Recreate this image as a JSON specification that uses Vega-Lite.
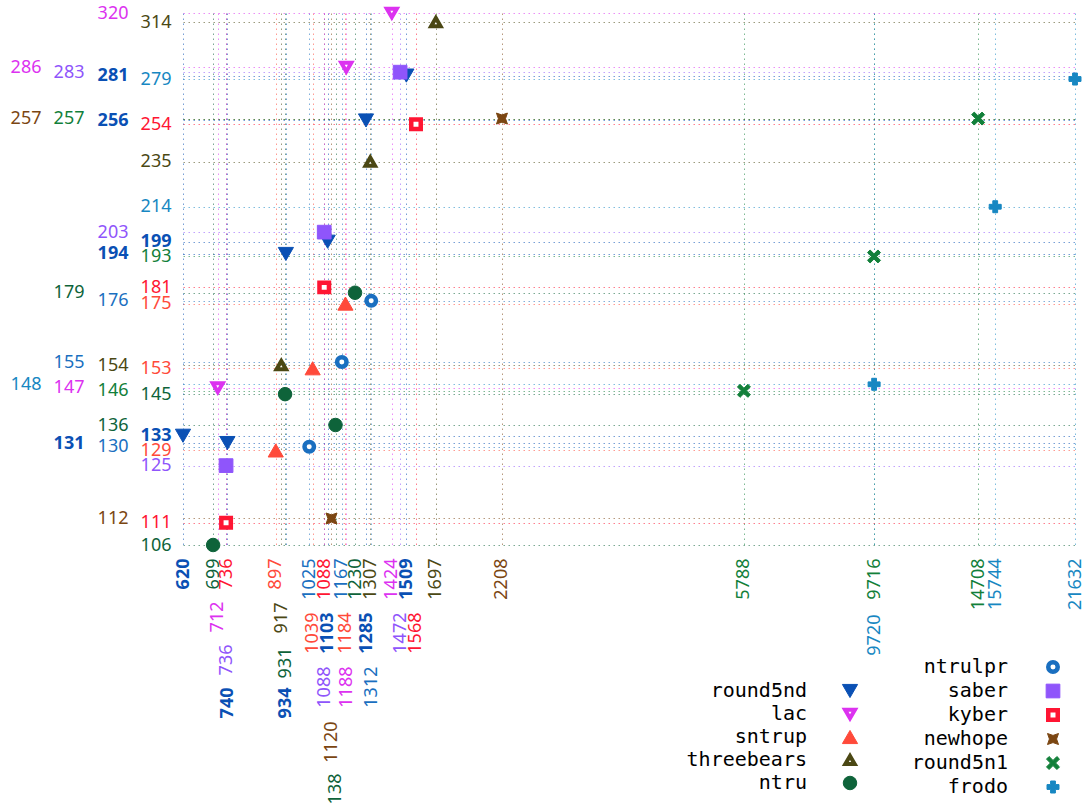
{
  "$schema": "https://vega.github.io/schema/vega-lite/v6.json",
  "width": 892,
  "height": 532,
  "autosize": {"type": "none"},
  "padding": {"left": 183, "top": 13, "right": 11, "bottom": 258},
  "background": "white",
  "config": {"view": {"stroke": null}},
  "params": [
    {"name": "pal", "value": ["#0a50b4", "#dc32f0", "#ff4a3a", "#4b4814", "#0e633a", "#1a6fc0", "#8f55fb", "#ff1533", "#7b4612", "#12803a", "#1787c2"]},
    {"name": "xv", "value": [620,699,712,736,736.01,740,897,917,931,934,1025,1039,1088,1088.01,1103,1120,1138,1167,1184,1188,1230,1285,1307,1312,1424,1472,1509,1568,1697,2208,5788,9716,9720,14708,15744,21632]},
    {"name": "xsi", "value": [0,4,1,7,6,0,2,3,4,0,5,2,7,6,0,8,4,5,2,1,4,0,3,5,1,6,0,7,3,8,9,9,10,9,10,10]},
    {"name": "xpad", "value": [13,13,56,13,99,142,13,57,102,142,13,67,13,121,67,176,228,13,67,121,13,67,13,121,13,67,13,67,13,13,13,13,69,13,13,13]},
    {"name": "yv", "value": [106,111,112,125,129,130,131,133,136,145,146,147,148,153,154,155,175,176,179,181,193,194,199,203,214,235,254,256,257,257.01,279,281,283,286,314,320]},
    {"name": "ysi", "value": [4,7,8,6,2,5,0,0,4,4,9,1,10,2,3,5,2,5,4,7,9,0,0,6,10,3,7,0,8,9,10,0,6,1,3,1]},
    {"name": "ypad", "value": [12,12,55,12,12,55,99,12,55,12,55,99,142,12,55,99,12,55,99,12,12,55,12,55,12,12,12,55,142,99,12,55,99,142,12,55]}
  ],
  "data": {"values": [
    {"series": "round5nd", "bytes": 620, "cycles": 133},
    {"series": "round5nd", "bytes": 740, "cycles": 131},
    {"series": "round5nd", "bytes": 934, "cycles": 194},
    {"series": "round5nd", "bytes": 1103, "cycles": 199},
    {"series": "round5nd", "bytes": 1285, "cycles": 256},
    {"series": "round5nd", "bytes": 1509, "cycles": 281},
    {"series": "lac", "bytes": 712, "cycles": 147},
    {"series": "lac", "bytes": 1188, "cycles": 286},
    {"series": "lac", "bytes": 1424, "cycles": 320},
    {"series": "sntrup", "bytes": 897, "cycles": 129},
    {"series": "sntrup", "bytes": 1039, "cycles": 153},
    {"series": "sntrup", "bytes": 1184, "cycles": 175},
    {"series": "threebears", "bytes": 917, "cycles": 154},
    {"series": "threebears", "bytes": 1307, "cycles": 235},
    {"series": "threebears", "bytes": 1697, "cycles": 314},
    {"series": "ntru", "bytes": 699, "cycles": 106},
    {"series": "ntru", "bytes": 931, "cycles": 145},
    {"series": "ntru", "bytes": 1138, "cycles": 136},
    {"series": "ntru", "bytes": 1230, "cycles": 179},
    {"series": "ntrulpr", "bytes": 1025, "cycles": 130},
    {"series": "ntrulpr", "bytes": 1167, "cycles": 155},
    {"series": "ntrulpr", "bytes": 1312, "cycles": 176},
    {"series": "saber", "bytes": 736, "cycles": 125},
    {"series": "saber", "bytes": 1088, "cycles": 203},
    {"series": "saber", "bytes": 1472, "cycles": 283},
    {"series": "kyber", "bytes": 736, "cycles": 111},
    {"series": "kyber", "bytes": 1088, "cycles": 181},
    {"series": "kyber", "bytes": 1568, "cycles": 254},
    {"series": "newhope", "bytes": 1120, "cycles": 112},
    {"series": "newhope", "bytes": 2208, "cycles": 257},
    {"series": "round5n1", "bytes": 5788, "cycles": 146},
    {"series": "round5n1", "bytes": 9716, "cycles": 193},
    {"series": "round5n1", "bytes": 14708, "cycles": 257},
    {"series": "frodo", "bytes": 9720, "cycles": 148},
    {"series": "frodo", "bytes": 15744, "cycles": 214},
    {"series": "frodo", "bytes": 21632, "cycles": 279}
  ]},
  "encoding": {
    "x": {
      "field": "bytes", "type": "quantitative",
      "scale": {"type": "log", "domain": [620, 21632], "nice": false, "zero": false},
      "axis": {
        "title": null,
        "values": [620,699,712,736,736.01,740,897,917,931,934,1025,1039,1088,1088.01,1103,1120,1138,1167,1184,1188,1230,1285,1307,1312,1424,1472,1509,1568,1697,2208,5788,9716,9720,14708,15744,21632],
        "format": "d",
        "labelAngle": -90,
        "labelAlign": "right",
        "labelBaseline": "middle",
        "labelFont": "Noto Sans",
        "labelFontSize": 18,
        "labelColor": {"expr": "pal[xsi[indexof(xv, datum.value)]]"},
        "labelPadding": {"expr": "xpad[indexof(xv, datum.value)]"},
        "labelFontWeight": {"expr": "xsi[indexof(xv, datum.value)] == 0 ? 'bold' : 'normal'"},
        "labelOverlap": false,
        "labelFlush": false,
        "labelBound": false,
        "labelLimit": 0,
        "domain": false,
        "ticks": false,
        "tickSize": 0,
        "grid": true,
        "gridColor": {"expr": "pal[xsi[indexof(xv, datum.value)]]"},
        "gridDash": [1.5, 3.5],
        "gridOpacity": 0.55,
        "gridWidth": 1
      }
    },
    "y": {
      "field": "cycles", "type": "quantitative",
      "scale": {"type": "log", "domain": [106, 320], "nice": false, "zero": false},
      "axis": {
        "title": null,
        "values": [106,111,112,125,129,130,131,133,136,145,146,147,148,153,154,155,175,176,179,181,193,194,199,203,214,235,254,256,257,257.01,279,281,283,286,314,320],
        "format": "d",
        "labelAlign": "right",
        "labelBaseline": "middle",
        "labelFont": "Noto Sans",
        "labelFontSize": 18,
        "labelColor": {"expr": "pal[ysi[indexof(yv, datum.value)]]"},
        "labelPadding": {"expr": "ypad[indexof(yv, datum.value)]"},
        "labelFontWeight": {"expr": "ysi[indexof(yv, datum.value)] == 0 ? 'bold' : 'normal'"},
        "labelOverlap": false,
        "labelFlush": false,
        "labelBound": false,
        "labelLimit": 0,
        "domain": false,
        "ticks": false,
        "tickSize": 0,
        "grid": true,
        "gridColor": {"expr": "pal[ysi[indexof(yv, datum.value)]]"},
        "gridDash": [1.5, 3.5],
        "gridOpacity": 0.55,
        "gridWidth": 1
      }
    }
  },
  "layer": [
    {
      "transform": [{"filter": {"field": "series", "oneOf": ["round5nd", "lac", "sntrup", "threebears", "ntru"]}}],
      "mark": {"type": "point", "filled": true, "opacity": 1},
      "encoding": {
        "fill": {"field": "series", "type": "nominal",
          "scale": {"domain": ["round5nd", "lac", "sntrup", "threebears", "ntru"], "range": ["#0a50b4", "white", "#ff4a3a", "white", "#0e633a"]},
          "legend": {"orient": "none", "legendX": 657, "legendY": 668, "title": null, "labelFont": "DejaVu Sans Mono", "labelFontSize": 20, "labelColor": "black", "labelAlign": "right", "labelOffset": -53, "rowPadding": -6, "gridAlign": "all", "padding": 0, "symbolOffset": 0, "labelLimit": 300, "encode": {"symbols": {"update": {"y": {"value": 12}, "strokeJoin": {"value": "round"}}}, "labels": {"update": {"y": {"value": 12}}}}}},
        "stroke": {"field": "series", "type": "nominal",
          "scale": {"domain": ["round5nd", "lac", "sntrup", "threebears", "ntru"], "range": ["#0a50b4", "#dc32f0", "#ff4a3a", "#4b4814", "#0e633a"]},
          "legend": {"orient": "none", "legendX": 657, "legendY": 668, "title": null, "labelFont": "DejaVu Sans Mono", "labelFontSize": 20, "labelColor": "black", "labelAlign": "right", "labelOffset": -53, "rowPadding": -6, "gridAlign": "all", "padding": 0, "symbolOffset": 0, "labelLimit": 300, "encode": {"symbols": {"update": {"y": {"value": 12}, "strokeJoin": {"value": "round"}}}, "labels": {"update": {"y": {"value": 12}}}}}},
        "shape": {"field": "series", "type": "nominal",
          "scale": {"domain": ["round5nd", "lac", "sntrup", "threebears", "ntru"], "range": ["triangle-down", "triangle-down", "triangle-up", "triangle-up", "circle"]},
          "legend": {"orient": "none", "legendX": 657, "legendY": 668, "title": null, "labelFont": "DejaVu Sans Mono", "labelFontSize": 20, "labelColor": "black", "labelAlign": "right", "labelOffset": -53, "rowPadding": -6, "gridAlign": "all", "padding": 0, "symbolOffset": 0, "labelLimit": 300, "encode": {"symbols": {"update": {"y": {"value": 12}, "strokeJoin": {"value": "round"}}}, "labels": {"update": {"y": {"value": 12}}}}}},
        "size": {"field": "series", "type": "nominal",
          "scale": {"type": "ordinal", "domain": ["round5nd", "lac", "sntrup", "threebears", "ntru"], "range": [230, 100, 230, 90, 182]},
          "legend": {"orient": "none", "legendX": 657, "legendY": 668, "title": null, "labelFont": "DejaVu Sans Mono", "labelFontSize": 20, "labelColor": "black", "labelAlign": "right", "labelOffset": -53, "rowPadding": -6, "gridAlign": "all", "padding": 0, "symbolOffset": 0, "labelLimit": 300, "encode": {"symbols": {"update": {"y": {"value": 12}, "strokeJoin": {"value": "round"}}}, "labels": {"update": {"y": {"value": 12}}}}}},
        "strokeWidth": {"field": "series", "type": "nominal",
          "scale": {"type": "ordinal", "domain": ["round5nd", "lac", "sntrup", "threebears", "ntru"], "range": [1, 4, 1, 4, 1]},
          "legend": {"orient": "none", "legendX": 657, "legendY": 668, "title": null, "labelFont": "DejaVu Sans Mono", "labelFontSize": 20, "labelColor": "black", "labelAlign": "right", "labelOffset": -53, "rowPadding": -6, "gridAlign": "all", "padding": 0, "symbolOffset": 0, "labelLimit": 300, "encode": {"symbols": {"update": {"y": {"value": 12}, "strokeJoin": {"value": "round"}}}, "labels": {"update": {"y": {"value": 12}}}}}}
      }
    },
    {
      "transform": [{"filter": {"field": "series", "oneOf": ["ntrulpr", "saber", "kyber", "newhope", "round5n1", "frodo"]}}],
      "mark": {"type": "point", "filled": true, "opacity": 1},
      "encoding": {
        "fill": {"field": "series", "type": "nominal",
          "scale": {"domain": ["ntrulpr", "saber", "kyber", "newhope", "round5n1", "frodo"], "range": ["white", "#8f55fb", "white", "#7b4612", "#12803a", "#1787c2"]},
          "legend": {"orient": "none", "legendX": 860, "legendY": 644, "title": null, "labelFont": "DejaVu Sans Mono", "labelFontSize": 20, "labelColor": "black", "labelAlign": "right", "labelOffset": -55, "rowPadding": -8, "gridAlign": "all", "padding": 0, "symbolOffset": 0, "labelLimit": 300, "encode": {"symbols": {"update": {"y": {"value": 12}, "strokeJoin": {"value": "round"}}}, "labels": {"update": {"y": {"value": 12}}}}}},
        "stroke": {"field": "series", "type": "nominal",
          "scale": {"domain": ["ntrulpr", "saber", "kyber", "newhope", "round5n1", "frodo"], "range": ["#1a6fc0", "#8f55fb", "#ff1533", "#7b4612", "#12803a", "#1787c2"]},
          "legend": {"orient": "none", "legendX": 860, "legendY": 644, "title": null, "labelFont": "DejaVu Sans Mono", "labelFontSize": 20, "labelColor": "black", "labelAlign": "right", "labelOffset": -55, "rowPadding": -8, "gridAlign": "all", "padding": 0, "symbolOffset": 0, "labelLimit": 300, "encode": {"symbols": {"update": {"y": {"value": 12}, "strokeJoin": {"value": "round"}}}, "labels": {"update": {"y": {"value": 12}}}}}},
        "shape": {"field": "series", "type": "nominal",
          "scale": {"domain": ["ntrulpr", "saber", "kyber", "newhope", "round5n1", "frodo"], "range": ["circle", "square", "square", "M-1,-1L0,-0.65L1,-1L0.65,0L1,1L0,0.65L-1,1L-0.65,0Z", "M-1,-0.6L-0.6,-1L0,-0.4L0.6,-1L1,-0.6L0.4,0L1,0.6L0.6,1L0,0.4L-0.6,1L-1,0.6L-0.4,0Z", "cross"]},
          "legend": {"orient": "none", "legendX": 860, "legendY": 644, "title": null, "labelFont": "DejaVu Sans Mono", "labelFontSize": 20, "labelColor": "black", "labelAlign": "right", "labelOffset": -55, "rowPadding": -8, "gridAlign": "all", "padding": 0, "symbolOffset": 0, "labelLimit": 300, "encode": {"symbols": {"update": {"y": {"value": 12}, "strokeJoin": {"value": "round"}}}, "labels": {"update": {"y": {"value": 12}}}}}},
        "size": {"field": "series", "type": "nominal",
          "scale": {"type": "ordinal", "domain": ["ntrulpr", "saber", "kyber", "newhope", "round5n1", "frodo"], "range": [90, 188, 90, 121, 169, 144]},
          "legend": {"orient": "none", "legendX": 860, "legendY": 644, "title": null, "labelFont": "DejaVu Sans Mono", "labelFontSize": 20, "labelColor": "black", "labelAlign": "right", "labelOffset": -55, "rowPadding": -8, "gridAlign": "all", "padding": 0, "symbolOffset": 0, "labelLimit": 300, "encode": {"symbols": {"update": {"y": {"value": 12}, "strokeJoin": {"value": "round"}}}, "labels": {"update": {"y": {"value": 12}}}}}},
        "strokeWidth": {"field": "series", "type": "nominal",
          "scale": {"type": "ordinal", "domain": ["ntrulpr", "saber", "kyber", "newhope", "round5n1", "frodo"], "range": [4.5, 1, 4.5, 1, 1, 1]},
          "legend": {"orient": "none", "legendX": 860, "legendY": 644, "title": null, "labelFont": "DejaVu Sans Mono", "labelFontSize": 20, "labelColor": "black", "labelAlign": "right", "labelOffset": -55, "rowPadding": -8, "gridAlign": "all", "padding": 0, "symbolOffset": 0, "labelLimit": 300, "encode": {"symbols": {"update": {"y": {"value": 12}, "strokeJoin": {"value": "round"}}}, "labels": {"update": {"y": {"value": 12}}}}}}
      }
    }
  ],
  "resolve": {"scale": {"fill": "independent", "stroke": "independent", "shape": "independent", "size": "independent", "strokeWidth": "independent"}}
}
